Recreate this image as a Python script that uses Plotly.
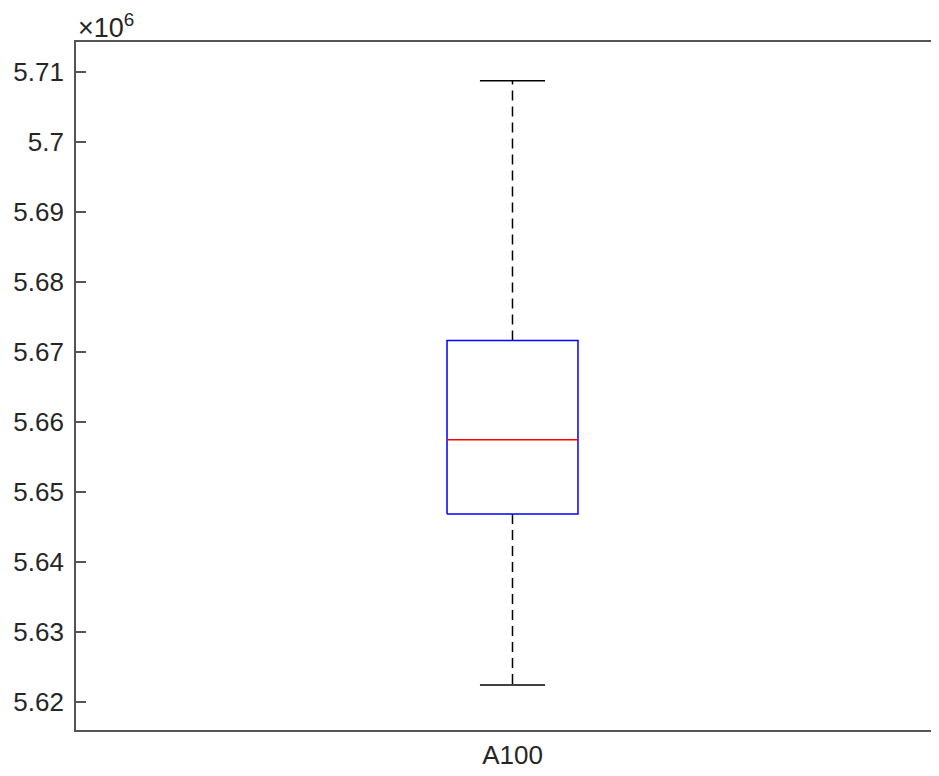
import plotly.graph_objects as go

# ---- data ----
categories = ["A100"]
upper_whisker = [5.70872e6]
q3 = [5.67163e6]
median = [5.65746e6]
q1 = [5.64686e6]
lower_whisker = [5.62247e6]

ytick_vals = [5.62e6, 5.63e6, 5.64e6, 5.65e6, 5.66e6, 5.67e6, 5.68e6, 5.69e6, 5.70e6, 5.71e6]
ytick_text = ["5.62", "5.63", "5.64", "5.65", "5.66", "5.67", "5.68", "5.69", "5.7", "5.71"]

FONT = "Liberation Sans, Arial, Helvetica, sans-serif"
TXT = "#262626"
AX = "#555555"
BOX_HALF = 0.075
CAP_HALF = 0.0373
LW = 1.5

fig = go.Figure()
for i, cat in enumerate(categories):
    xc = i + 1
    # whiskers (dashed)
    fig.add_trace(go.Scatter(x=[xc, xc], y=[q3[i], upper_whisker[i]], mode="lines",
                             line=dict(color="black", width=LW, dash="10px,6px"), showlegend=False, hoverinfo="skip"))
    fig.add_trace(go.Scatter(x=[xc, xc], y=[q1[i], lower_whisker[i]], mode="lines",
                             line=dict(color="black", width=LW, dash="10px,6px"), showlegend=False, hoverinfo="skip"))
    # caps
    fig.add_trace(go.Scatter(x=[xc - CAP_HALF, xc + CAP_HALF], y=[upper_whisker[i]] * 2, mode="lines",
                             line=dict(color="black", width=LW), showlegend=False, hoverinfo="skip"))
    fig.add_trace(go.Scatter(x=[xc - CAP_HALF, xc + CAP_HALF], y=[lower_whisker[i]] * 2, mode="lines",
                             line=dict(color="black", width=LW), showlegend=False, hoverinfo="skip"))
    # box
    fig.add_trace(go.Scatter(x=[xc - BOX_HALF, xc + BOX_HALF, xc + BOX_HALF, xc - BOX_HALF, xc - BOX_HALF],
                             y=[q1[i], q1[i], q3[i], q3[i], q1[i]], mode="lines",
                             line=dict(color="#0000ff", width=LW), showlegend=False, hoverinfo="skip"))
    # median
    fig.add_trace(go.Scatter(x=[xc - BOX_HALF, xc + BOX_HALF], y=[median[i]] * 2, mode="lines",
                             line=dict(color="#ff0000", width=LW), showlegend=False, hoverinfo="skip"))

fig.update_layout(
    width=923, height=760,
    margin=dict(l=68, r=0, t=34, b=38, autoexpand=False),
    paper_bgcolor="white", plot_bgcolor="white",
    font=dict(family=FONT, color=TXT, size=25),
    xaxis=dict(range=[0.5, 1.4794], tickvals=[i + 1 for i in range(len(categories))], ticktext=categories,
               showline=True, linecolor=AX, linewidth=1.8, mirror=True,
               ticks="outside", ticklen=1, tickcolor="rgba(0,0,0,0)",
               showgrid=False, zeroline=False, tickfont=dict(size=26, family=FONT, color=TXT)),
    yaxis=dict(range=[5.61605e6, 5.714237e6], tickvals=ytick_vals, ticktext=ytick_text,
               showline=True, linecolor=AX, linewidth=1.8,
               ticks="inside", ticklen=10, tickcolor=AX, tickwidth=1.5,
               ticklabelstandoff=5,
               showgrid=False, zeroline=False, tickfont=dict(size=26, family=FONT, color=TXT)),
    annotations=[dict(text="×10<sup>6</sup>", xref="paper", yref="paper", x=0, y=1,
                      xanchor="left", yanchor="bottom", showarrow=False,
                      font=dict(size=27, family=FONT, color=TXT), xshift=0, yshift=-3)],
)

fig.write_html("out.html")
